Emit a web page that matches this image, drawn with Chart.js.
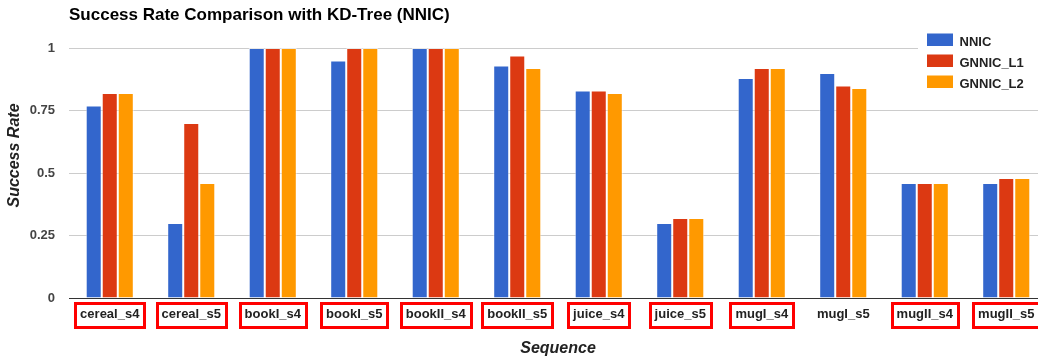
<!DOCTYPE html>
<html>
<head>
<meta charset="utf-8">
<script src="https://cdn.jsdelivr.net/npm/chart.js@4/dist/chart.umd.min.js"></script>
<style>
  html, body { margin: 0; padding: 0; background: #fff; overflow: hidden; }
  #wrap { width: 1048px; height: 358px; }
</style>
</head>
<body>
<div id="wrap"><canvas id="c" width="1048" height="358"></canvas></div>
<script>
const categories = ['cereal_s4', 'cereal_s5', 'bookI_s4', 'bookI_s5', 'bookII_s4', 'bookII_s5',
                    'juice_s4', 'juice_s5', 'mugI_s4', 'mugI_s5', 'mugII_s4', 'mugII_s5'];
const nnic    = [0.77, 0.30, 1.00, 0.95, 1.00, 0.93, 0.83, 0.30, 0.88, 0.90, 0.46, 0.46];
const gnnicL1 = [0.82, 0.70, 1.00, 1.00, 1.00, 0.97, 0.83, 0.32, 0.92, 0.85, 0.46, 0.48];
const gnnicL2 = [0.82, 0.46, 1.00, 1.00, 1.00, 0.92, 0.82, 0.32, 0.92, 0.84, 0.46, 0.48];
const yTicks  = [0, 0.25, 0.5, 0.75, 1];
// sequences outlined in red under the axis
const outlined = [true, true, true, true, true, true, true, true, true, false, true, true];

const FONT = "'Liberation Sans', Arial, sans-serif";
const seriesColors = ['#3366cc', '#dc3912', '#ff9900'];

const overlay = {
  id: 'overlay',
  afterDatasetsDraw(chart) {
    const ctx = chart.ctx;
    const area = chart.chartArea;
    const x = chart.scales.x;
    ctx.save();

    // baseline at zero
    const y0 = chart.scales.y.getPixelForValue(0);
    ctx.strokeStyle = '#333';
    ctx.lineWidth = 1;
    ctx.beginPath();
    ctx.moveTo(area.left, Math.round(y0) + 0.5);
    ctx.lineTo(area.right, Math.round(y0) + 0.5);
    ctx.stroke();

    // title
    ctx.fillStyle = '#000';
    ctx.font = 'bold 17px ' + FONT;
    ctx.textAlign = 'left';
    ctx.textBaseline = 'alphabetic';
    ctx.fillText('Success Rate Comparison with KD-Tree (NNIC)', area.left, 19.5);

    // axis titles
    ctx.fillStyle = '#222';
    ctx.font = 'italic bold 16px ' + FONT;
    ctx.textAlign = 'center';
    ctx.fillText('Sequence', (area.left + area.right) / 2, 353);
    ctx.save();
    ctx.translate(18.5, 155.5);
    ctx.rotate(-Math.PI / 2);
    ctx.fillText('Success Rate', 0, 0);
    ctx.restore();

    // red outlines around sequence labels
    ctx.font = 'bold 13px ' + FONT;
    ctx.strokeStyle = '#ff0000';
    ctx.lineWidth = 3;
    categories.forEach((name, i) => {
      if (!outlined[i]) return;
      const cx = x.getPixelForTick(i);
      const w = ctx.measureText(name).width + 10;
      const h = 24;
      const cy = area.bottom + 16.5;
      ctx.strokeRect(Math.round(cx - w / 2) + 0.5, Math.round(cy - h / 2) + 0.5, Math.round(w), h);
    });

    // legend
    ctx.fillStyle = '#fff';
    ctx.fillRect(918, 28, 140, 66);
    ctx.font = 'bold 13px ' + FONT;
    ctx.textAlign = 'left';
    chart.data.datasets.forEach((ds, i) => {
      const top = 33.5 + i * 21;
      ctx.fillStyle = ds.backgroundColor;
      ctx.fillRect(927, top, 26, 12.5);
      ctx.fillStyle = '#222';
      ctx.fillText(ds.label, 959.5, top + 12.2);
    });
    ctx.restore();
  }
};

new Chart(document.getElementById('c'), {
  type: 'bar',
  data: {
    labels: categories,
    datasets: [
      { label: 'NNIC', data: nnic, backgroundColor: seriesColors[0] },
      { label: 'GNNIC_L1', data: gnnicL1, backgroundColor: seriesColors[1] },
      { label: 'GNNIC_L2', data: gnnicL2, backgroundColor: seriesColors[2] }
    ]
  },
  options: {
    responsive: false,
    animation: false,
    devicePixelRatio: 1,
    layout: { padding: { top: 48, right: 1, left: 0, bottom: 0 } },
    datasets: {
      bar: {
        categoryPercentage: 0.59,
        barPercentage: 1.0,
        borderWidth: 1,
        borderColor: 'rgba(255,255,255,0.55)',
        borderSkipped: 'bottom'
      }
    },
    plugins: {
      legend: { display: false },
      title: { display: false },
      tooltip: { enabled: false }
    },
    scales: {
      x: {
        grid: { display: false, drawTicks: false },
        border: { display: false },
        ticks: {
          autoSkip: false, maxRotation: 0, minRotation: 0, padding: 9,
          color: '#222', font: { family: FONT, size: 13, weight: 'bold' }
        },
        afterFit(scale) { scale.height = 60; }
      },
      y: {
        min: 0, max: 1,
        afterBuildTicks(scale) { scale.ticks = yTicks.map(v => ({ value: v })); },
        grid: { color: '#cccccc', lineWidth: 1, drawTicks: false },
        border: { display: false },
        ticks: {
          padding: 14, color: '#444',
          font: { family: FONT, size: 13, weight: 'bold' },
          callback: v => String(v)
        },
        afterFit(scale) { scale.width = 69; }
      }
    }
  },
  plugins: [overlay]
});
</script>
</body>
</html>
